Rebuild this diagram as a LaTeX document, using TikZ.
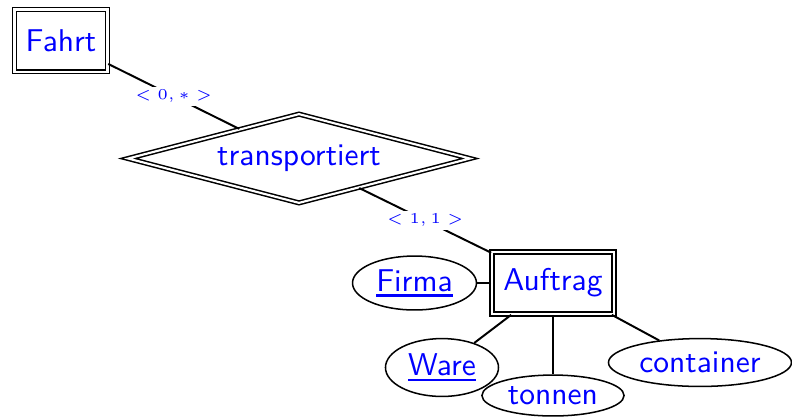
\documentclass[tikz,border=0pt]{standalone}
\usetikzlibrary{shapes.geometric}
% thick underline for key attributes
\newcommand{\keyattr}[1]{\setbox0\hbox{#1}\rlap{\rule[-1.9pt]{\wd0}{0.8pt}}\box0}
\begin{document}
\begin{tikzpicture}[x=0.33pt, y=-0.33pt, line width=0.65pt,
    entity/.style = {draw, double, double distance=0.7pt, line width=0.5pt, text=blue, font=\fontsize{10.4}{13}\sffamily, inner sep=0pt, minimum height=20.5pt},
    relation/.style = {draw, double, double distance=0.7pt, line width=0.5pt, diamond, aspect=3.8, text=blue, font=\fontsize{10.4}{13}\sffamily, inner sep=0pt},
    attr/.style = {draw, line width=0.5pt, ellipse, text=blue, font=\fontsize{10.4}{13}\sffamily, inner sep=0pt},
    card/.style = {midway, fill=white, text=blue, font=\tiny, inner sep=1pt}]
    \useasboundingbox (0,0) rectangle (792,418);
    \node[entity, minimum width=30.7pt] (fahrt) at (61,40.5) {Fahrt};
    \node[relation, minimum width=113pt, minimum height=29.5pt] (transp) at (299,158.5) {transportiert};
    \node[entity, minimum width=40.3pt] (auftrag) at (553,283) {Auftrag};
    \node[attr, minimum width=40.9pt, minimum height=17.8pt] (firma) at (414.5,283) {\keyattr{Firma}};
    \node[attr, minimum width=37.3pt, minimum height=19.1pt] (ware) at (442,367.5) {\keyattr{Ware}};
    \node[attr, minimum width=46.9pt, minimum height=13.5pt] (tonnen) at (553,395.5) {tonnen};
    \node[attr, minimum width=60.4pt, minimum height=15.8pt] (container) at (700,362.5) {container};
    \draw (fahrt) -- (transp) node[card] {$<0,*>$};
    \draw (transp) -- (auftrag) node[card] {$<1,1>$};
    \draw (auftrag) -- (firma);
    \draw (auftrag) -- (ware);
    \draw (auftrag) -- (tonnen);
    \draw (auftrag) -- (container);
\end{tikzpicture}
\end{document}
